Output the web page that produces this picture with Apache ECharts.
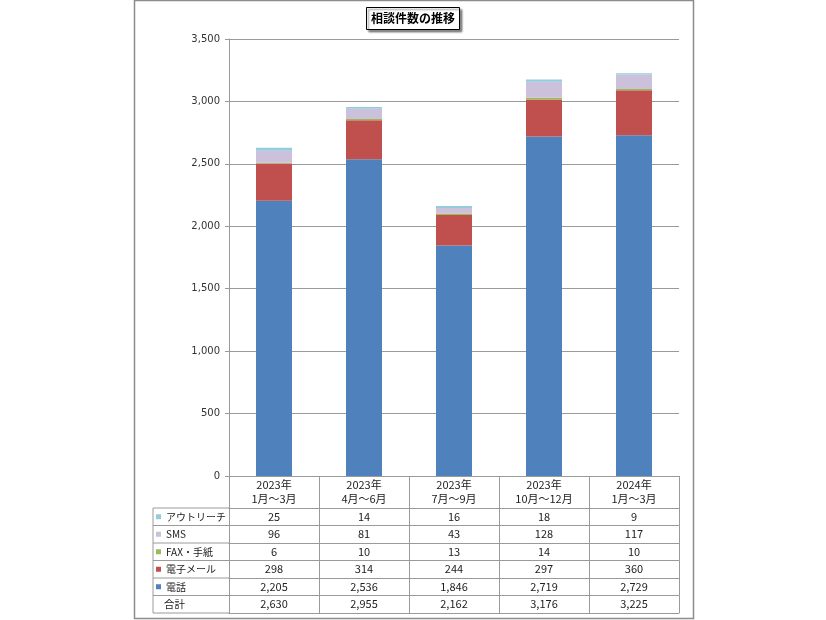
<!DOCTYPE html>
<html>
<head>
<meta charset="utf-8">
<script src="https://cdn.jsdelivr.net/npm/echarts@6/dist/echarts.min.js"></script>
<style>
  html, body { margin: 0; padding: 0; background: #fff; }
  #main { width: 826px; height: 620px; }
</style>
</head>
<body>
<div id="main"></div>
<script>
// データ
var categories = ['2023年\n1月～3月', '2023年\n4月～6月', '2023年\n7月～9月', '2023年\n10月～12月', '2024年\n1月～3月'];
var telephone = [2205, 2536, 1846, 2719, 2729];
var email = [298, 314, 244, 297, 360];
var faxLetter = [6, 10, 13, 14, 10];
var sms = [96, 81, 43, 128, 117];
var outreach = [25, 14, 16, 18, 9];
var totals = [2630, 2955, 2162, 3176, 3225];

var colors = {
    '電話': '#4F81BD',
    '電子メール': '#C0504D',
    'FAX・手紙': '#9BBB59',
    'SMS': '#CCC1DA',
    'アウトリーチ': '#93CDDD'
};

// 表の行 (上から)
var tableRows = [
    { name: 'アウトリーチ', values: outreach },
    { name: 'SMS', values: sms },
    { name: 'FAX・手紙', values: faxLetter },
    { name: '電子メール', values: email },
    { name: '電話', values: telephone },
    { name: '合計', values: totals }
];

var gridLeft = 229, gridRight = 679, gridTop = 39, axisY = 476;
var headerH = 32, rowH = 17.5, tableLeft = 153;
var lineColor = '#9a9a9a';
var jpFont = 'Noto Sans CJK JP';

function fmt(v) {
    return String(v).replace(/\B(?=(\d{3})+(?!\d))/g, ',');
}

var myChart = echarts.init(document.getElementById('main'));

var xAxes = [{
    type: 'category',
    data: categories,
    position: 'bottom',
    axisLine: { onZero: false, lineStyle: { color: lineColor } },
    axisTick: { show: true, length: headerH, interval: 0, lineStyle: { color: lineColor } },
    axisLabel: { interval: 0, margin: 2, fontSize: 11, lineHeight: 14, color: '#222', fontFamily: jpFont }
}];
tableRows.forEach(function (row, i) {
    xAxes.push({
        type: 'category',
        data: categories,
        position: 'bottom',
        offset: headerH + rowH * i,
        axisLine: { onZero: false, lineStyle: { color: lineColor } },
        axisTick: { show: true, length: rowH, interval: 0, lineStyle: { color: lineColor } },
        axisLabel: {
            interval: 0, margin: 3, fontSize: 11, color: '#222', fontFamily: jpFont,
            formatter: function (v, idx) { return fmt(row.values[idx]); }
        }
    });
});
// 表の下端
xAxes.push({
    type: 'category',
    data: categories,
    position: 'bottom',
    offset: headerH + rowH * tableRows.length,
    axisLine: { onZero: false, lineStyle: { color: lineColor } },
    axisTick: { show: false },
    axisLabel: { show: false }
});

var stackOrder = [
    { name: '電話', values: telephone },
    { name: '電子メール', values: email },
    { name: 'FAX・手紙', values: faxLetter },
    { name: 'SMS', values: sms },
    { name: 'アウトリーチ', values: outreach }
];

// 外枠と左列の罫線
var graphics = [{
    type: 'rect',
    shape: { x: 134.5, y: 0.5, width: 559, height: 618 },
    style: { fill: 'none', stroke: '#8c8c8c', lineWidth: 1.5 },
    silent: true
}];
for (var i = 0; i <= tableRows.length; i++) {
    var y = axisY + headerH + rowH * i;
    graphics.push({
        type: 'line',
        shape: { x1: tableLeft, y1: y, x2: gridLeft, y2: y },
        style: { stroke: lineColor, lineWidth: 1 },
        silent: true
    });
}
graphics.push({
    type: 'line',
    shape: { x1: tableLeft, y1: axisY + headerH, x2: tableLeft, y2: axisY + headerH + rowH * tableRows.length },
    style: { stroke: lineColor, lineWidth: 1 },
    silent: true
});
graphics.push({
    type: 'text',
    left: 164,
    top: axisY + headerH + rowH * 5 + 3,
    style: { text: '合計', fontSize: 10.5, fill: '#222', fontFamily: jpFont },
    silent: true
});

var option = {
    animation: false,
    title: {
        text: '相談件数の推移',
        left: 'center',
        top: 7,
        padding: [5, 5, 6, 5],
        backgroundColor: '#fff',
        borderColor: '#000',
        borderWidth: 1,
        shadowColor: 'rgba(0,0,0,0.45)',
        shadowBlur: 2,
        shadowOffsetX: 2,
        shadowOffsetY: 2,
        textStyle: { fontSize: 12, fontWeight: 'bold', color: '#000', fontFamily: jpFont }
    },
    legend: {
        data: tableRows.slice(0, 5).map(function (r) { return r.name; }),
        orient: 'vertical',
        left: 156,
        top: axisY + headerH,
        padding: 0,
        itemGap: 0,
        itemWidth: 5,
        itemHeight: 5,
        icon: 'rect',
        selectedMode: false,
        textStyle: { fontSize: 10, lineHeight: rowH, color: '#222', fontFamily: jpFont }
    },
    grid: {
        left: gridLeft,
        right: 826 - gridRight,
        top: gridTop,
        bottom: 620 - axisY
    },
    xAxis: xAxes,
    yAxis: {
        type: 'value',
        min: 0,
        max: 3500,
        interval: 500,
        axisLine: { show: true, lineStyle: { color: lineColor } },
        axisTick: { show: true, length: 4, lineStyle: { color: lineColor } },
        axisLabel: { margin: 9, fontSize: 10, color: '#333', fontFamily: 'DejaVu Sans' },
        splitLine: { lineStyle: { color: lineColor } }
    },
    series: stackOrder.map(function (s) {
        return {
            name: s.name,
            type: 'bar',
            stack: 'total',
            barWidth: 36,
            itemStyle: { color: colors[s.name] },
            data: s.values
        };
    }),
    graphic: graphics
};

myChart.setOption(option);
</script>
</body>
</html>
